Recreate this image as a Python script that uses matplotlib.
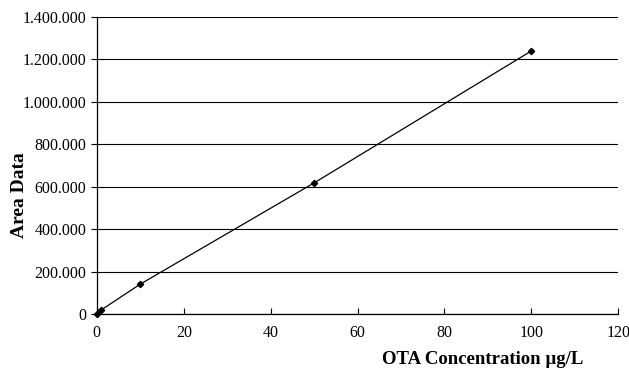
import matplotlib
matplotlib.use('Agg')
import matplotlib.pyplot as plt
from matplotlib.ticker import FuncFormatter

# Calibration data
conc = [0, 1, 10, 50, 100]
area = [0, 19000, 141000, 618000, 1240000]

x_ticks = [0, 20, 40, 60, 80, 100, 120]
y_ticks = [0, 200000, 400000, 600000, 800000, 1000000, 1200000, 1400000]

plt.rcParams['font.family'] = ['Liberation Serif', 'DejaVu Serif']

fig = plt.figure(figsize=(6.29, 3.69), dpi=100)
ax = fig.add_axes([0.154, 0.149, 0.829, 0.805])

ax.plot(conc, area, color='black', linewidth=0.9, marker='D', markersize=3.2,
        clip_on=False, zorder=3)

ax.set_xlim(0, 120)
ax.set_ylim(0, 1400000)
ax.set_xticks(x_ticks)
ax.set_yticks(y_ticks)
ax.yaxis.set_major_formatter(FuncFormatter(lambda v, p: f'{int(v):,}'.replace(',', '.')))

ax.grid(axis='y', color='black', linewidth=0.8)
ax.set_axisbelow(True)
for s in ['top', 'right']:
    ax.spines[s].set_visible(False)
ax.spines['left'].set_linewidth(0.9)
ax.spines['bottom'].set_linewidth(0.9)

ax.tick_params(axis='x', direction='in', length=4, labelsize=11.5, pad=8)
ax.tick_params(axis='y', direction='out', length=4, labelsize=11.5)

fig.text(20 / 629, 1 - 195 / 369, 'Area Data', rotation=90,
         fontsize=14, fontweight='bold', ha='center', va='center')
fig.text(483 / 629, 1 - 360 / 369, 'OTA Concentration \u00b5g/L',
         fontsize=13.5, fontweight='bold', ha='center', va='center')

fig.savefig('out.png', dpi=100, facecolor='white')
